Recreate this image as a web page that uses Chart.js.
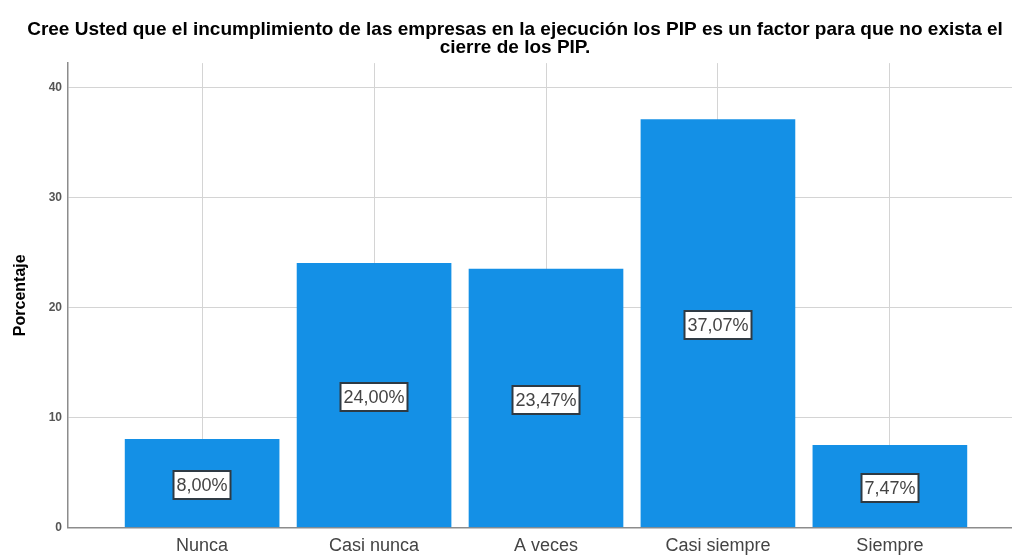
<!DOCTYPE html>
<html>
<head>
<meta charset="utf-8">
<script src="https://cdn.jsdelivr.net/npm/chart.js@4"></script>
<style>
  html, body { margin: 0; padding: 0; background: #fff; overflow: hidden; }
  #wrap { width: 1012px; height: 555px; overflow: hidden; }
</style>
</head>
<body>
<div id="wrap"><canvas id="chart" width="1024" height="565"></canvas></div>
<script>
// Data
const categories = ["Nunca", "Casi nunca", "A veces", "Casi siempre", "Siempre"];
const percentages = [8.0, 24.0, 23.47, 37.07, 7.47];
const valueLabels = ["8,00%", "24,00%", "23,47%", "37,07%", "7,47%"];
const yTicks = [0, 10, 20, 30, 40];

const titleLines = [
  "Cree Usted que el incumplimiento de las empresas en la ejecución los PIP es un factor para que no exista el",
  "cierre de los PIP.",
];

const FONT = "'Liberation Sans', Arial, sans-serif";

// boxed value labels in the middle of each bar
const boxLabels = {
  id: "boxLabels",
  afterDatasetsDraw(chart) {
    const ctx = chart.ctx;
    const meta = chart.getDatasetMeta(0);
    ctx.save();
    ctx.font = "18px " + FONT;
    ctx.textAlign = "center";
    ctx.textBaseline = "middle";
    meta.data.forEach((bar, i) => {
      const text = valueLabels[i];
      const cx = Math.round(bar.x);
      const cy = Math.round((bar.y + bar.base) / 2 + 2);
      const w = Math.round(ctx.measureText(text).width + 6);
      const h = 28;
      ctx.fillStyle = "#ffffff";
      ctx.fillRect(cx - w / 2, cy - h / 2, w, h);
      ctx.strokeStyle = "#2e3a44";
      ctx.lineWidth = 2;
      ctx.strokeRect(cx - w / 2, cy - h / 2, w, h);
      ctx.fillStyle = "#444444";
      ctx.fillText(text, cx, cy + 1);
    });
    ctx.restore();
  },
};

const ctx = document.getElementById("chart").getContext("2d");

new Chart(ctx, {
  type: "bar",
  data: {
    datasets: [
      {
        data: percentages.map((v, i) => ({ x: i, y: v })),
        backgroundColor: "#1490e6",
        borderWidth: 0,
        barThickness: 154,
      },
    ],
  },
  options: {
    responsive: false,
    animation: false,
    layout: { padding: { left: 6, right: 0, top: 0, bottom: 0 } },
    plugins: {
      legend: { display: false },
      tooltip: { enabled: false },
      title: {
        display: true,
        text: titleLines,
        color: "#000000",
        font: { family: FONT, size: 19, weight: "bold", lineHeight: 0.95 },
        padding: { top: 20.5, bottom: 6.5 },
      },
    },
    scales: {
      x: {
        type: "linear",
        offset: false,
        min: -0.78,
        max: 4.78,
        afterBuildTicks(scale) {
          scale.ticks = categories.map((c, i) => ({ value: i }));
        },
        grid: { offset: false, color: "#d4d4d4", drawTicks: false },
        border: { color: "#8c8c8c", width: 1.5 },
        ticks: {
          color: "#444444",
          padding: 8,
          font: { family: FONT, size: 18 },
          maxRotation: 0,
          callback: (v) => categories[v],
        },
      },
      y: {
        min: 0,
        max: 42.2,
        afterBuildTicks(scale) {
          scale.ticks = yTicks.map((v) => ({ value: v }));
        },
        afterFit(scale) {
          scale.width = 62;
        },
        grid: { color: "#d4d4d4", drawTicks: false },
        border: { color: "#8c8c8c", width: 1.5 },
        ticks: {
          color: "#555555",
          padding: 6,
          font: { family: FONT, size: 12, weight: "bold" },
        },
        title: {
          display: true,
          text: "Porcentaje",
          color: "#000000",
          font: { family: FONT, size: 16, weight: "bold" },
          padding: { top: 5, bottom: 0 },
        },
      },
    },
  },
  plugins: [boxLabels],
});
</script>
</body>
</html>
